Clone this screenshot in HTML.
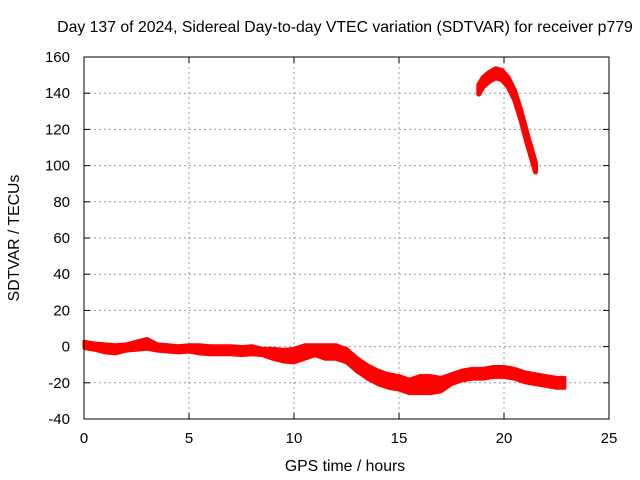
<!DOCTYPE html>
<html><head><meta charset="utf-8"><style>
body{margin:0;background:#fff}
svg{display:block;font-family:"Liberation Sans",sans-serif}
</style></head><body>
<svg id="c" width="640" height="480">
<rect width="640" height="480" fill="#fff"/>
<text x="345" y="32" text-anchor="middle" font-size="15.8" fill="#000">Day 137 of 2024, Sidereal Day-to-day VTEC variation (SDTVAR) for receiver p779</text>
<text x="345" y="471" text-anchor="middle" font-size="15.8">GPS time / hours</text>
<text transform="translate(19,238) rotate(-90)" text-anchor="middle" font-size="15.8">SDTVAR / TECUs</text>
<g id="grid"></g>
<g id="ticks"></g>
<g id="marks"></g>
<rect x="84" y="57" width="525" height="362" fill="none" stroke="#000" stroke-width="1"/>
</svg>
<script>
const xTicks=[0,5,10,15,20,25];
const yTicks=[-40,-20,0,20,40,60,80,100,120,140,160];
const lowHours=[0,0.5,1,1.5,2,2.5,3,3.5,4,4.5,5,5.5,6,6.5,7,7.5,8,8.5,9,9.5,10,10.5,11,11.5,12,12.5,13,13.5,14,14.5,15,15.5,16,16.5,17,17.5,18,18.5,19,19.5,20,20.5,21,21.5,22,22.5,22.9];
const lowCenter=[1,0,-1,-1.5,-0.5,0.5,1.5,-0.5,-1,-1.5,-1,-1.5,-2,-2,-2,-2.5,-2,-3,-4,-5,-5,-3,-2,-3,-3,-5,-10,-14,-17,-19,-20,-22,-21,-21,-21,-18,-16,-15,-15,-14,-14,-15,-17,-18,-19,-20,-20];
const lowSpread=[2,2,2.5,2.5,2,2.5,3,2,2,2,2,2.5,2.5,2.5,2.5,2.5,2.5,2,3,3.5,4,4,3,4,4,4,4,4,4,4,4,4,5,5,4,3,3,3,3,3,3,3,3,3,3,3,3];
const highHours=[18.8,19,19.3,19.6,19.9,20.2,20.5,20.8,21.1,21.5];
const highCenter=[142,146,149,151,150,146,139,128,115,99];
const highSpread=[2.5,2.5,2.5,2.5,2.5,2.5,2.5,2.5,2.5,2.5];
const NS="http://www.w3.org/2000/svg";
const X=t=>84+t*21, Y=v=>57+(160-v)*1.81;
const grid=document.getElementById('grid'),ticks=document.getElementById('ticks'),marks=document.getElementById('marks');
function mk(tag,attrs,parent){const e=document.createElementNS(NS,tag);for(const k in attrs)e.setAttribute(k,attrs[k]);parent.appendChild(e);return e;}
xTicks.forEach(t=>{
  if(t>0&&t<25){const g=mk('line',{x1:X(t),x2:X(t),y1:57,y2:419,stroke:'#999','stroke-dasharray':'2,3'},grid);
  
  }
  const a=mk('line',{x1:X(t),x2:X(t),y1:419,y2:413,stroke:'#000'},ticks);
  const b=mk('line',{x1:X(t),x2:X(t),y1:57,y2:63,stroke:'#000'},ticks);
  const l=mk('text',{x:X(t),y:443,'text-anchor':'middle','font-size':'15'},ticks);l.textContent=t;
  
  
});
yTicks.forEach(v=>{
  if(v>-40&&v<160){const g=mk('line',{x1:84,x2:609,y1:Y(v),y2:Y(v),stroke:'#999','stroke-dasharray':'2,3'},grid);
  
  }
  const a=mk('line',{x1:84,x2:90,y1:Y(v),y2:Y(v),stroke:'#000'},ticks);
  const b=mk('line',{x1:603,x2:609,y1:Y(v),y2:Y(v),stroke:'#000'},ticks);
  const l=mk('text',{x:70,y:Y(v)+5,'text-anchor':'end','font-size':'15'},ticks);l.textContent=v;
  
  
});
function band(hrs,ctr,spr,name,sw){
  const up=hrs.map((t,i)=>X(t)+','+Y(ctr[i]+spr[i]));
  const dn=hrs.map((t,i)=>X(t)+','+Y(ctr[i]-spr[i])).reverse();
  const p=mk('polygon',{points:up.concat(dn).join(' '),fill:'#f00',stroke:'#f00','stroke-width':sw,'stroke-linejoin':'round'},marks);
  
  
}
band(lowHours,lowCenter,lowSpread,'sdtvar-low-band','3');
band(highHours,highCenter,highSpread,'sdtvar-high-arc','5');
</script>
</body></html>
